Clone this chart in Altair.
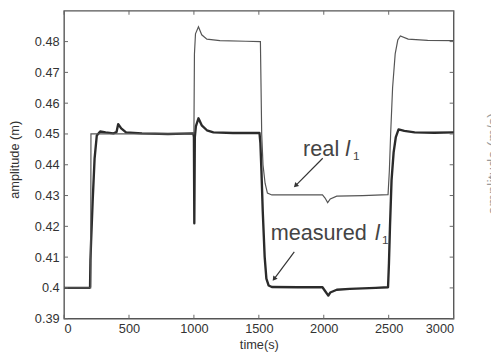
import altair as alt
import pandas as pd

# ---- data ----
meas_t = [0, 195, 200, 203, 208, 220, 235, 252, 278, 320, 380, 404, 417, 440, 477, 600, 800,
          995, 1000, 1003, 1007, 1015, 1035, 1060, 1100, 1150, 1300, 1505, 1512, 1520, 1530,
          1545, 1558, 1575, 1600, 1800, 1990, 2010, 2035, 2050, 2100, 2200, 2400, 2495, 2502,
          2510, 2522, 2538, 2555, 2576, 2620, 2700, 2850, 3000]
meas_v = [0.4000, 0.4000, 0.4003, 0.4090, 0.4150, 0.4280, 0.4420, 0.4495, 0.4508, 0.4505,
          0.4502, 0.4506, 0.4532, 0.4518, 0.4505, 0.4502, 0.4500,
          0.4502, 0.4490, 0.4210, 0.4490, 0.4525, 0.4551, 0.4528, 0.4512, 0.4505, 0.4503,
          0.4503, 0.4470, 0.4380, 0.4250, 0.4100, 0.4030, 0.4008, 0.4003, 0.4002, 0.4002,
          0.3990, 0.3975, 0.3985, 0.3994, 0.3997, 0.4000, 0.4002, 0.4080,
          0.4200, 0.4350, 0.4440, 0.4490, 0.4515, 0.4510, 0.4505, 0.4504, 0.4505]

real_t = [0, 205, 207, 995, 1000, 1004, 1012, 1035, 1060, 1100, 1200, 1400, 1512, 1517, 1522,
          1532, 1548, 1566, 1600, 1990, 2010, 2030, 2050, 2100, 2300, 2495, 2505, 2515, 2530,
          2550, 2570, 2590, 2650, 2800, 3000]
real_v = [0.4000, 0.4000, 0.4500, 0.4500, 0.4500, 0.4760, 0.4825, 0.4848, 0.4822, 0.4808,
          0.4803, 0.4801, 0.4800, 0.4650, 0.4500, 0.4400, 0.4340, 0.4308, 0.4302, 0.4302,
          0.4292, 0.4277, 0.4289, 0.4298, 0.4300, 0.4303, 0.4380, 0.4500, 0.4650, 0.4760,
          0.4805, 0.4818, 0.4808, 0.4804, 0.4803]

x_ticks = [0, 500, 1000, 1500, 2000, 2500, 3000]
y_ticks = [0.39, 0.40, 0.41, 0.42, 0.43, 0.44, 0.45, 0.46, 0.47, 0.48]

# annotation texts (word, italic l, subscript 1)
ann_text = ["real", "measured"]
ann_t = [1841, 1591]
ann_v = [0.4430, 0.4156]
ell_t = [2165, 2395]
ell_v = [0.4430, 0.4156]
sub_t = [2225, 2448]
sub_v = [0.4416, 0.4142]

# arrows: start -> tip
arr_t0 = [1992, 1773]
arr_v0 = [0.4421, 0.4117]
arr_t1 = [1787, 1621]
arr_v1 = [0.4334, 0.4031]
arr_ang = [225, 217]

df_meas = pd.DataFrame({"t": meas_t, "v": meas_v})
df_real = pd.DataFrame({"t": real_t, "v": real_v})
df_ann = pd.DataFrame({"txt": ann_text, "t": ann_t, "v": ann_v})
df_ell = pd.DataFrame({"txt": ["l", "l"], "t": ell_t, "v": ell_v})
df_sub = pd.DataFrame({"txt": ["1", "1"], "t": sub_t, "v": sub_v})
df_arr = pd.DataFrame({"t0": arr_t0, "v0": arr_v0, "t1": arr_t1, "v1": arr_v1, "ang": arr_ang})
df_xt = pd.DataFrame({"t": x_ticks})
df_yt = pd.DataFrame({"v": y_ticks})

W, H = 396, 313
FONT = "Liberation Sans"
xs = alt.Scale(domain=[0, 3000], nice=False, zero=False)
ys = alt.Scale(domain=[0.39, 0.49], nice=False, zero=False)

x_axis = alt.Axis(values=x_ticks, format="d", title="time(s)", labelPadding=4, tickSize=0,
                  titleY=26, titleBaseline="middle")
y_axis = alt.Axis(values=y_ticks, format=".2~f", title="amplitude (m)", labelPadding=5,
                  tickSize=0, titleX=-50, titleY=151, titleAngle=270, titleBaseline="middle",
                  titleAlign="center")

measured = alt.Chart(df_meas).mark_line(color="#2b2b2b", strokeWidth=2.4, strokeJoin="round").encode(
    x=alt.X("t:Q", scale=xs, axis=x_axis),
    y=alt.Y("v:Q", scale=ys, axis=y_axis),
)

real = alt.Chart(df_real).mark_line(color="#555555", strokeWidth=1.2).encode(
    x=alt.X("t:Q", scale=xs, axis=None),
    y=alt.Y("v:Q", scale=ys, axis=alt.Axis(orient="right", title="amplitude (m/s)", labels=False,
                                           ticks=False, domain=False, tickSize=0, grid=False,
                                           titleX=33, titleY=155, titleAngle=270,
                                           titleBaseline="top", titleAlign="center",
                                           titleColor="#9a9a9a", titleFontSize=15)),
)

yt_left = alt.Chart(df_yt).mark_rule(color="#666666", strokeWidth=1).encode(
    y=alt.Y("v:Q", scale=ys, axis=None), x=alt.value(0), x2=alt.value(4))
yt_right = alt.Chart(df_yt).mark_rule(color="#666666", strokeWidth=1).encode(
    y=alt.Y("v:Q", scale=ys, axis=None), x=alt.value(W - 4), x2=alt.value(W))
xt_bot = alt.Chart(df_xt).mark_rule(color="#666666", strokeWidth=1).encode(
    x=alt.X("t:Q", scale=xs, axis=None), y=alt.value(H - 4), y2=alt.value(H))
xt_top = alt.Chart(df_xt).mark_rule(color="#666666", strokeWidth=1).encode(
    x=alt.X("t:Q", scale=xs, axis=None), y=alt.value(0), y2=alt.value(4))

words = alt.Chart(df_ann).mark_text(font=FONT, fontSize=22, align="left", baseline="alphabetic",
                                    color="#444444").encode(
    x=alt.X("t:Q", scale=xs, axis=None), y=alt.Y("v:Q", scale=ys, axis=None), text="txt:N")
ells = alt.Chart(df_ell).mark_text(font=FONT, fontSize=22, fontStyle="italic", align="left",
                                   baseline="alphabetic", color="#444444").encode(
    x=alt.X("t:Q", scale=xs, axis=None), y=alt.Y("v:Q", scale=ys, axis=None), text="txt:N")
subs = alt.Chart(df_sub).mark_text(font=FONT, fontSize=12, align="left", baseline="alphabetic",
                                   color="#444444").encode(
    x=alt.X("t:Q", scale=xs, axis=None), y=alt.Y("v:Q", scale=ys, axis=None), text="txt:N")

arrow_lines = alt.Chart(df_arr).mark_rule(color="#333333", strokeWidth=1.2).encode(
    x=alt.X("t0:Q", scale=xs, axis=None), y=alt.Y("v0:Q", scale=ys, axis=None),
    x2="t1:Q", y2="v1:Q")
arrow_heads = alt.Chart(df_arr).mark_point(shape="triangle", filled=True, size=30, color="#333333",
                                           opacity=1).encode(
    x=alt.X("t1:Q", scale=xs, axis=None), y=alt.Y("v1:Q", scale=ys, axis=None),
    angle=alt.Angle("ang:Q", scale=None))

chart = alt.layer(
    measured, real, yt_left, yt_right, xt_bot, xt_top, words, ells, subs, arrow_lines, arrow_heads
).resolve_axis(x="independent", y="independent").properties(
    width=W, height=H,
    autosize=alt.AutoSizeParams(type="none"),
    padding={"left": 57, "top": 0, "right": 38, "bottom": 31},
).configure_view(
    stroke="#555555", strokeWidth=1.4
).configure_axis(
    domain=False, grid=False, ticks=False,
    labelFont=FONT, labelFontSize=13, labelColor="#333333",
    titleFont=FONT, titleFontSize=13, titleColor="#333333", titleFontWeight="normal",
)

chart.save("out.html", embed_options={"renderer": "svg", "actions": False})
